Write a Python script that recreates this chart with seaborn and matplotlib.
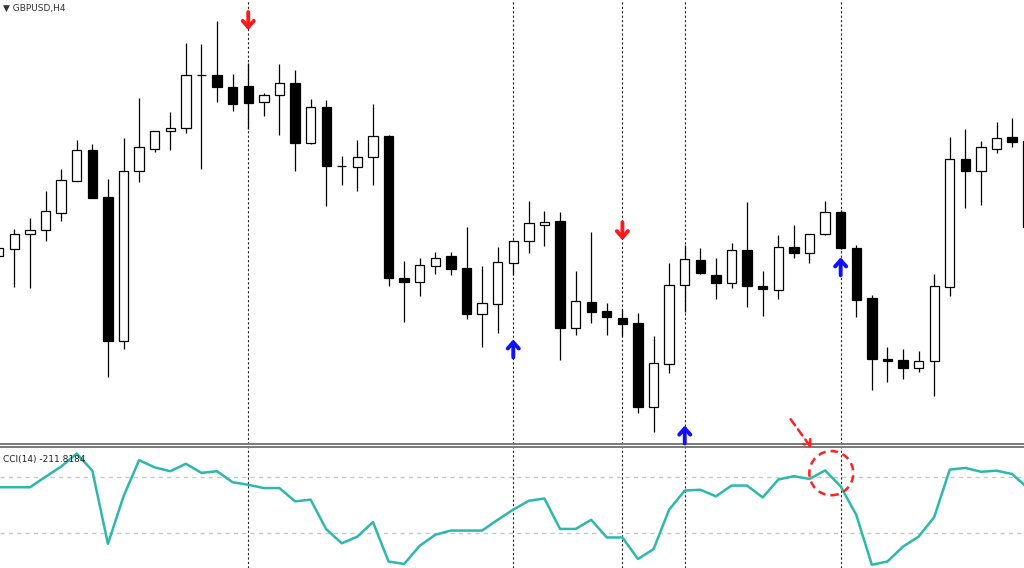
import matplotlib
matplotlib.use("Agg")
import matplotlib.pyplot as plt
from matplotlib.patches import Ellipse, FancyArrowPatch
import numpy as np
import pandas as pd
import seaborn as sns

# GBPUSD H4 candles (no price scale shown)
opens = [1.2987, 1.2994, 1.3009, 1.3013, 1.3030, 1.3062, 1.3093, 1.3046, 1.2902, 1.3072,
         1.3094, 1.3112, 1.3115, 1.3168, 1.3168, 1.3156, 1.3157, 1.3141, 1.3148, 1.3160,
         1.3100, 1.3136, 1.3077, 1.3076, 1.3086, 1.3107, 1.2965, 1.2961, 1.2977, 1.2987,
         1.2975, 1.2929, 1.2939, 1.2980, 1.3002, 1.3018, 1.3022, 1.2915, 1.2941, 1.2932,
         1.2925, 1.2920, 1.2836, 1.2879, 1.2958, 1.2983, 1.2968, 1.2960, 1.2993, 1.2957,
         1.2953, 1.2996, 1.2990, 1.3009, 1.3031, 1.2995, 1.2945, 1.2884, 1.2883, 1.2875,
         1.2882, 1.2956, 1.3084, 1.3072, 1.3094, 1.3106, 1.3102]
highs = [1.2997, 1.3014, 1.3025, 1.3052, 1.3074, 1.3103, 1.3099, 1.3064, 1.3105, 1.3145,
         1.3112, 1.3131, 1.3200, 1.3199, 1.3222, 1.3169, 1.3180, 1.3150, 1.3179, 1.3173,
         1.3144, 1.3143, 1.3087, 1.3103, 1.3139, 1.3108, 1.2982, 1.2985, 1.2991, 1.2991,
         1.3016, 1.2977, 1.2996, 1.3003, 1.3042, 1.3032, 1.3031, 1.2972, 1.3011, 1.2940,
         1.2934, 1.2930, 1.2907, 1.2980, 1.2998, 1.2995, 1.2985, 1.3000, 1.3041, 1.2972,
         1.3008, 1.3018, 1.3009, 1.3042, 1.3033, 1.2998, 1.2948, 1.2896, 1.2894, 1.2892,
         1.2969, 1.3106, 1.3114, 1.3102, 1.3121, 1.3125, 1.3113]
lows = [1.2985, 1.2956, 1.2955, 1.3002, 1.3022, 1.3062, 1.3045, 1.2866, 1.2894, 1.3061,
        1.3091, 1.3093, 1.3110, 1.3074, 1.3141, 1.3132, 1.3114, 1.3127, 1.3108, 1.3072,
        1.3099, 1.3037, 1.3058, 1.3052, 1.3058, 1.2957, 1.2921, 1.2947, 1.2969, 1.2968,
        1.2924, 1.2896, 1.2910, 1.2968, 1.2990, 1.2997, 1.2883, 1.2908, 1.2920, 1.2908,
        1.2907, 1.2830, 1.2811, 1.2870, 1.2931, 1.2969, 1.2944, 1.2955, 1.2936, 1.2927,
        1.2944, 1.2985, 1.2980, 1.3008, 1.2994, 1.2926, 1.2853, 1.2861, 1.2864, 1.2871,
        1.2847, 1.2947, 1.3035, 1.3038, 1.3090, 1.3096, 1.3016]
closes = [1.2995, 1.3009, 1.3013, 1.3032, 1.3063, 1.3093, 1.3045, 1.2902, 1.3072, 1.3096,
          1.3112, 1.3115, 1.3168, 1.3168, 1.3156, 1.3139, 1.3140, 1.3148, 1.3160, 1.3100,
          1.3136, 1.3077, 1.3077, 1.3086, 1.3107, 1.2965, 1.2961, 1.2978, 1.2985, 1.2974,
          1.2929, 1.2940, 1.2981, 1.3002, 1.3020, 1.3021, 1.2915, 1.2942, 1.2931, 1.2926,
          1.2919, 1.2836, 1.2880, 1.2958, 1.2984, 1.2970, 1.2960, 1.2993, 1.2957, 1.2954,
          1.2996, 1.2990, 1.3009, 1.3031, 1.2995, 1.2943, 1.2884, 1.2882, 1.2875, 1.2882,
          1.2957, 1.3084, 1.3072, 1.3096, 1.3105, 1.3101, 1.3016]

# CCI(14) per bar
cci = [64, 64, 64, 102, 139, 186, 124, -141, 31, 162,
       136, 122, 149, 116, 122, 82, 73, 61, 61, 13,
       19, -88, -139, -115, -62, -205, -214, -148, -108, -93,
       -93, -93, -54, -17, 15, 23, -87, -87, -54, -118,
       -118, -196, -160, -17, 52, 55, 31, 70, 70, 27,
       92, 104, 94, 125, 67, -36, -217, -205, -151, -115,
       -44, 128, 134, 120, 124, 112, 61]

# signal arrows: bar index and arrow tip price
sell_bars = [16, 40]
sell_tips = [1.3213, 1.3003]
buy_bars = [33, 44, 54]
buy_tips = [1.2904, 1.2818, 1.2986]

df = pd.DataFrame({"open": opens, "high": highs, "low": lows, "close": closes, "cci": cci})
df["bar"] = np.arange(len(df))
up = df["close"] >= df["open"]

sns.set_style("white")
plt.rcParams["font.family"] = ["DejaVu Sans"]

fig = plt.figure(figsize=(10.24, 5.68), dpi=100)
ax = fig.add_axes([0, 124.5 / 568, 1, 443.5 / 568])
ax2 = fig.add_axes([0, 0, 1, 121.5 / 568])

# candles
ax.vlines(df["bar"], df["low"], df["high"], color="black", lw=0.9, zorder=1)
body = (df["close"] - df["open"]).where((df["close"] - df["open"]).abs() > 0.00005, 0.00001)
ax.bar(df["bar"], body, bottom=df["open"], width=0.6,
       color=np.where(up, "white", "black"), edgecolor="black", linewidth=0.9, zorder=2)

# signal lines
for b in sell_bars + buy_bars:
    ax.axvline(b, color="#222222", ls=(0, (2, 2)), lw=0.8, zorder=0)
    ax2.axvline(b, color="#222222", ls=(0, (2, 2)), lw=0.8, zorder=0)

arrow_len = 0.0018
for b, t in zip(sell_bars, sell_tips):
    ax.annotate("", xy=(b, t), xytext=(b, t + arrow_len),
                arrowprops=dict(arrowstyle="->,head_length=0.45,head_width=0.4",
                                color="#ff1a1a", lw=2.8, shrinkA=0, shrinkB=0), zorder=5)
for b, t in zip(buy_bars, buy_tips):
    ax.annotate("", xy=(b, t), xytext=(b, t - arrow_len),
                arrowprops=dict(arrowstyle="->,head_length=0.45,head_width=0.4",
                                color="#1010ff", lw=2.8, shrinkA=0, shrinkB=0), zorder=5)

ax.set_xlim(0.077, 65.76)
ax.set_ylim(1.2800, 1.3243)
ax.set_xticks([])
ax.set_yticks([])
for s in ["top", "left", "right"]:
    ax.spines[s].set_visible(False)
ax.spines["bottom"].set_color("#707070")
ax.spines["bottom"].set_linewidth(1.3)
ax.text(0.003, 0.992, "▼ GBPUSD,H4", transform=ax.transAxes, ha="left", va="top",
        fontsize=6.5, color="#333333")

# CCI panel
ax2.axhline(100, color="#c8c8c8", ls=(0, (3, 3)), lw=1, zorder=0)
ax2.axhline(-100, color="#c8c8c8", ls=(0, (3, 3)), lw=1, zorder=0)
sns.lineplot(data=df, x="bar", y="cci", ax=ax2, color="#2db8ad", lw=1.8, zorder=3)
ax2.set_xlim(0.077, 65.76)
ax2.set_ylim(-228.6, 211.6)
ax2.set_xticks([])
ax2.set_yticks([])
ax2.set_xlabel("")
ax2.set_ylabel("")
for s in ["bottom", "left", "right"]:
    ax2.spines[s].set_visible(False)
ax2.spines["top"].set_color("#707070")
ax2.spines["top"].set_linewidth(1.3)
ax2.text(0.003, 0.93, "CCI(14) -211.8184", transform=ax2.transAxes, ha="left", va="top",
         fontsize=6.5, color="#222222", zorder=4)

# highlight around the CCI turn
ax2.add_patch(Ellipse((53.4, cci[53] - 10), 2.82, 160, fill=False, ec="#ff2020",
                      lw=1.8, ls=(0, (3, 2)), zorder=5, clip_on=False))
fig.add_artist(FancyArrowPatch((0.7705, 0.2658), (0.7939, 0.2077), transform=fig.transFigure,
                               arrowstyle="->,head_length=4,head_width=3", color="#ff2020",
                               lw=1.8, ls=(0, (3, 2))))

fig.savefig("out.png", dpi=100)
